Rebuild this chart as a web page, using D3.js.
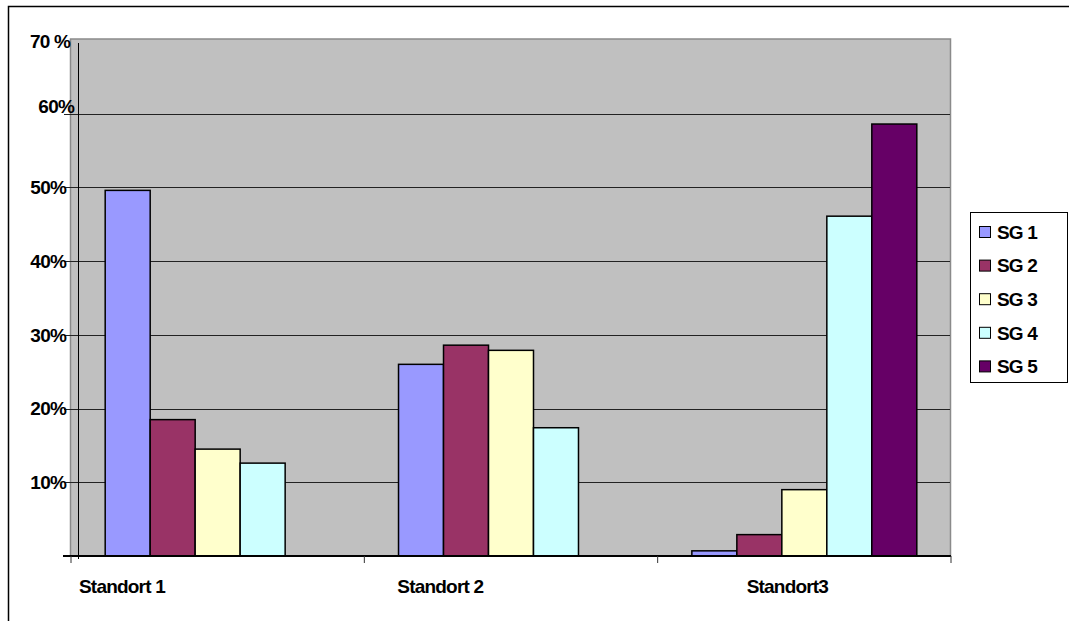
<!DOCTYPE html>
<html>
<head>
<meta charset="utf-8">
<script src="https://cdn.jsdelivr.net/npm/d3@7"></script>
<style>
  html, body { margin: 0; padding: 0; background: #fff; }
  svg { display: block; }
  text { font-family: "Liberation Sans", Arial, sans-serif; font-weight: bold; fill: #000; }
</style>
</head>
<body>
<svg id="chart" width="1069" height="621"></svg>
<script>
// ---- data ----
const categories = ["Standort 1", "Standort 2", "Standort3"];
const seriesNames = ["SG 1", "SG 2", "SG 3", "SG 4", "SG 5"];
const sg1 = [0.496, 0.260, 0.007];
const sg2 = [0.185, 0.286, 0.029];
const sg3 = [0.145, 0.279, 0.090];
const sg4 = [0.126, 0.174, 0.461];
const sg5 = [0.000, 0.000, 0.586];
const seriesValues = [sg1, sg2, sg3, sg4, sg5];
const yTickValues = [0.1, 0.2, 0.3, 0.4, 0.5, 0.6, 0.7];
const yTickLabels = ["10%", "20%", "30%", "40%", "50%", "60%", "70 %"];
const colors = ["#9999FF", "#993366", "#FFFFCC", "#CCFFFF", "#660066"];

// ---- layout ----
const svg = d3.select("#chart");
const plot = { left: 71, right: 951, top: 40, bottom: 556 };
const FS = 19, LS = -0.8;
const x0 = d3.scaleBand().domain(categories).range([plot.left, plot.right]).paddingInner(0).paddingOuter(0);
const x1 = d3.scaleBand().domain(seriesNames).range([0, x0.bandwidth()]).paddingInner(0).paddingOuter(0.76);
const y = d3.scaleLinear().domain([0, 0.7]).range([plot.bottom, plot.top]);

// outer frame (only left & top visible)
svg.append("rect").attr("x", 8.5).attr("y", 6.5).attr("width", 1200).attr("height", 800)
  .attr("fill", "none").attr("stroke", "#000").attr("stroke-width", 1.5);

// plot background
svg.append("rect").attr("x", plot.left - 0.5).attr("y", plot.top - 1)
  .attr("width", plot.right - plot.left).attr("height", plot.bottom - plot.top + 1)
  .attr("fill", "#C0C0C0").attr("stroke", "#8a8a8a").attr("stroke-width", 1.5);

// gridlines
svg.append("g").selectAll("line").data(yTickValues.slice(0, 6)).join("line")
  .attr("x1", 64).attr("x2", plot.right - 1)
  .attr("y1", d => Math.round(y(d)) + 0.5).attr("y2", d => Math.round(y(d)) + 0.5)
  .attr("stroke", "#222").attr("stroke-width", 1);

// inner vertical axis line
svg.append("line").attr("x1", 78.5).attr("x2", 78.5).attr("y1", 43).attr("y2", 559)
  .attr("stroke", "#000").attr("stroke-width", 1);

// bars
const groups = svg.append("g").selectAll("g").data(categories).join("g")
  .attr("transform", d => `translate(${x0(d)},0)`);
groups.selectAll("rect")
  .data((c, ci) => seriesNames.map((s, si) => ({ s, si, v: seriesValues[si][ci] })).filter(d => d.v > 0))
  .join("rect")
  .attr("x", d => x1(d.s))
  .attr("width", x1.bandwidth())
  .attr("y", d => y(d.v))
  .attr("height", d => y(0) - y(d.v))
  .attr("fill", d => colors[d.si])
  .attr("stroke", "#000").attr("stroke-width", 1.5);

// x axis line and ticks
svg.append("line").attr("x1", 63).attr("x2", plot.right).attr("y1", plot.bottom).attr("y2", plot.bottom)
  .attr("stroke", "#000").attr("stroke-width", 2);
const xTicks = categories.map(c => x0(c)).concat([plot.right]);
svg.append("g").selectAll("line").data(xTicks).join("line")
  .attr("x1", d => d).attr("x2", d => d).attr("y1", plot.bottom).attr("y2", plot.bottom + 7)
  .attr("stroke", "#333").attr("stroke-width", 1);

// x labels
const xLabelDx = [8, 33, 89];
svg.append("g").selectAll("text").data(categories).join("text")
  .attr("x", (d, i) => x0(d) + xLabelDx[i])
  .attr("y", 593)
  .attr("font-size", FS)
  .attr("letter-spacing", LS)
  .text(d => d);

// y labels
const yLabelDx = [0, 0, 0, 0, 0, 8, 4];
const yLabelDy = [0, 0, 0, 0, 0, -8, 1];
svg.append("g").selectAll("text").data(yTickValues).join("text")
  .attr("x", (d, i) => 66 + yLabelDx[i])
  .attr("y", (d, i) => y(d) + yLabelDy[i])
  .attr("dy", "0.36em")
  .attr("text-anchor", "end")
  .attr("font-size", FS)
  .attr("letter-spacing", LS)
  .text((d, i) => yTickLabels[i]);

// legend
const legend = svg.append("g");
legend.append("rect").attr("x", 970.5).attr("y", 212.5).attr("width", 97).attr("height", 170)
  .attr("fill", "#fff").attr("stroke", "#000").attr("stroke-width", 1);
const items = legend.selectAll("g").data(seriesNames).join("g")
  .attr("transform", (d, i) => `translate(979, ${232 + i * 33.6})`);
items.append("rect").attr("x", 0.5).attr("y", -5.5).attr("width", 11).attr("height", 11)
  .attr("fill", (d, i) => colors[i]).attr("stroke", "#000").attr("stroke-width", 1);
items.append("text").attr("x", 18).attr("y", 0).attr("dy", "0.36em")
  .attr("font-size", FS).attr("letter-spacing", LS)
  .text(d => d);
</script>
</body>
</html>
